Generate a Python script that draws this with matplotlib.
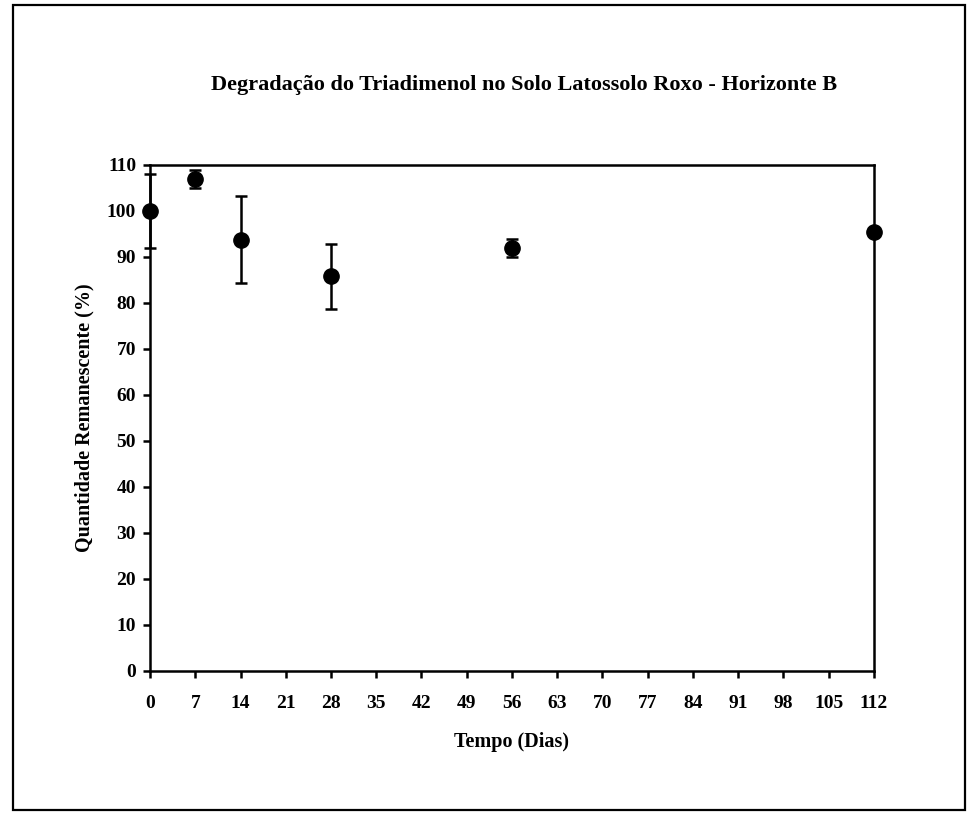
import matplotlib
matplotlib.use("Agg")
from matplotlib import pyplot as plt
from matplotlib.patches import Rectangle

# dados
dias = [0, 7, 14, 28, 56, 112]
remanescente = [100.0, 107.0, 93.8, 85.8, 92.0, 95.5]
desvio = [8.0, 2.0, 9.4, 7.0, 2.0, 0.5]

xticks = list(range(0, 113, 7))
yticks = list(range(0, 111, 10))

plt.rcParams['font.family'] = ['Liberation Serif', 'DejaVu Serif']
plt.rcParams['font.weight'] = 'bold'

fig = plt.figure(figsize=(9.71, 8.14), dpi=100)
ax = fig.add_axes([0.1545, 0.1757, 0.7455, 0.6216])

ax.errorbar(dias, remanescente, yerr=desvio, fmt='o', color='black',
            markersize=11, elinewidth=1.8, capsize=4, capthick=1.8,
            clip_on=False, zorder=5)

ax.set_xlim(0, 112)
ax.set_ylim(0, 110)
ax.set_xticks(xticks)
ax.set_yticks(yticks)
for s in ax.spines.values():
    s.set_linewidth(1.8)
ax.tick_params(axis='both', direction='out', length=5, width=1.8, labelsize=14)
ax.tick_params(axis='x', pad=12)
ax.tick_params(axis='y', pad=5)
for lab in ax.get_xticklabels() + ax.get_yticklabels():
    lab.set_fontweight('bold')

ax.set_xlabel('Tempo (Dias)', fontsize=14.5, fontweight='bold', labelpad=15)
ax.set_ylabel('Quantidade Remanescente (%)', fontsize=14.5, fontweight='bold', labelpad=9)

fig.text(0.54, 0.895, 'Degradação do Triadimenol no Solo Latossolo Roxo - Horizonte B',
         ha='center', va='center', fontsize=16, fontweight='bold')

# moldura externa
fig.patches.append(Rectangle((0.0134, 0.005), 0.980, 0.989, transform=fig.transFigure,
                             fill=False, edgecolor='black', linewidth=1.6))

fig.savefig('out.png', dpi=100)
